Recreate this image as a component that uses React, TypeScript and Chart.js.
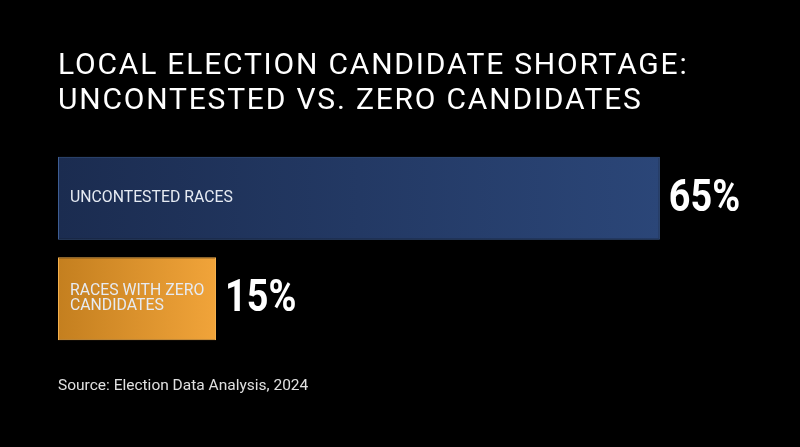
import { useEffect, useRef } from "react";
import { Chart, registerables } from "chart.js";
import type { Plugin } from "chart.js";

Chart.register(...registerables);

const titleLines = ["LOCAL ELECTION CANDIDATE SHORTAGE:", "UNCONTESTED VS. ZERO CANDIDATES"];
const categories = [["UNCONTESTED RACES"], ["RACES WITH ZERO", "CANDIDATES"]];
const values = [65, 15];
const sourceNote = "Source: Election Data Analysis, 2024";

// scale starts a little below zero so the short bar has room for its label
const AXIS_START = -2.8;

const textPlugin: Plugin<"bar"> = {
  id: "textPlugin",
  beforeDraw(chart) {
    const { ctx, width, height } = chart;
    ctx.save();
    ctx.fillStyle = "#000";
    ctx.fillRect(0, 0, width, height);
    ctx.restore();
  },
  afterDatasetsDraw(chart) {
    const { ctx } = chart;
    const meta = chart.getDatasetMeta(0);
    ctx.save();
    ctx.textBaseline = "middle";
    meta.data.forEach((bar: any, i) => {
      const left = bar.base;
      const lines = categories[i];
      ctx.fillStyle = "#e6ebf3";
      ctx.font = "400 15.8px Roboto";
      ctx.textAlign = "left";
      const lh = 15.5;
      lines.forEach((ln, k) => {
        ctx.fillText(ln, left + 12, bar.y + (k - (lines.length - 1) / 2) * lh);
      });
      ctx.save();
      ctx.translate(bar.x + 9, bar.y + 1);
      ctx.scale(0.84, 1);
      ctx.fillStyle = "#fff";
      ctx.font = "700 45px Roboto";
      ctx.fillText(values[i] + "%", 0, 0);
      ctx.restore();
    });
    ctx.fillStyle = "#fff";
    ctx.font = "400 30px Roboto";
    ctx.textBaseline = "alphabetic";
    (ctx as any).letterSpacing = "1.8px";
    titleLines.forEach((ln, k) => ctx.fillText(ln, 58, 74 + k * 34.5));
    (ctx as any).letterSpacing = "0px";
    ctx.fillStyle = "#e0e0e0";
    ctx.font = "400 15.5px Roboto";
    ctx.fillText(sourceNote, 58, 390);
    ctx.restore();
  },
};

export default function App() {
  const canvasRef = useRef<HTMLCanvasElement>(null);
  const chartRef = useRef<Chart | null>(null);

  useEffect(() => {
    document.body.style.margin = "0";
    document.body.style.background = "#000";
    if (!canvasRef.current) return;
    chartRef.current?.destroy();
    chartRef.current = new Chart(canvasRef.current, {
      type: "bar",
      data: {
        labels: categories.map((c) => c.join(" ")),
        datasets: [
          {
            data: values,
            base: AXIS_START,
            backgroundColor: (c: any) => {
              const xs = c.chart.scales?.x;
              const fallback = c.dataIndex === 0 ? "#24406f" : "#dc922c";
              if (!xs) return fallback;
              const x0 = xs.getPixelForValue(AXIS_START);
              const x1 = xs.getPixelForValue(values[c.dataIndex]);
              if (!isFinite(x0) || !isFinite(x1) || x1 <= x0) return fallback;
              const g = c.chart.ctx.createLinearGradient(x0, 0, x1, 0);
              if (c.dataIndex === 0) {
                g.addColorStop(0, "#1b2c50");
                g.addColorStop(1, "#2b4678");
              } else {
                g.addColorStop(0, "#c47f1f");
                g.addColorStop(1, "#f1a43a");
              }
              return g;
            },
            borderColor: ["#3d5d94", "#f5b04c"],
            borderWidth: 1,
            borderSkipped: false,
            categoryPercentage: 1,
            barPercentage: 0.826,
          },
        ],
      },
      options: {
        indexAxis: "y",
        animation: false,
        responsive: false,
        layout: { padding: { left: 58, right: 7, top: 148, bottom: 98 } },
        scales: {
          x: { display: false, min: AXIS_START, max: 80 },
          y: { display: false },
        },
        plugins: {
          legend: { display: false },
          tooltip: { enabled: false },
        },
      },
      plugins: [textPlugin],
    });
    return () => chartRef.current?.destroy();
  }, []);

  return <canvas ref={canvasRef} width={800} height={447} style={{ display: "block" }} />;
}
